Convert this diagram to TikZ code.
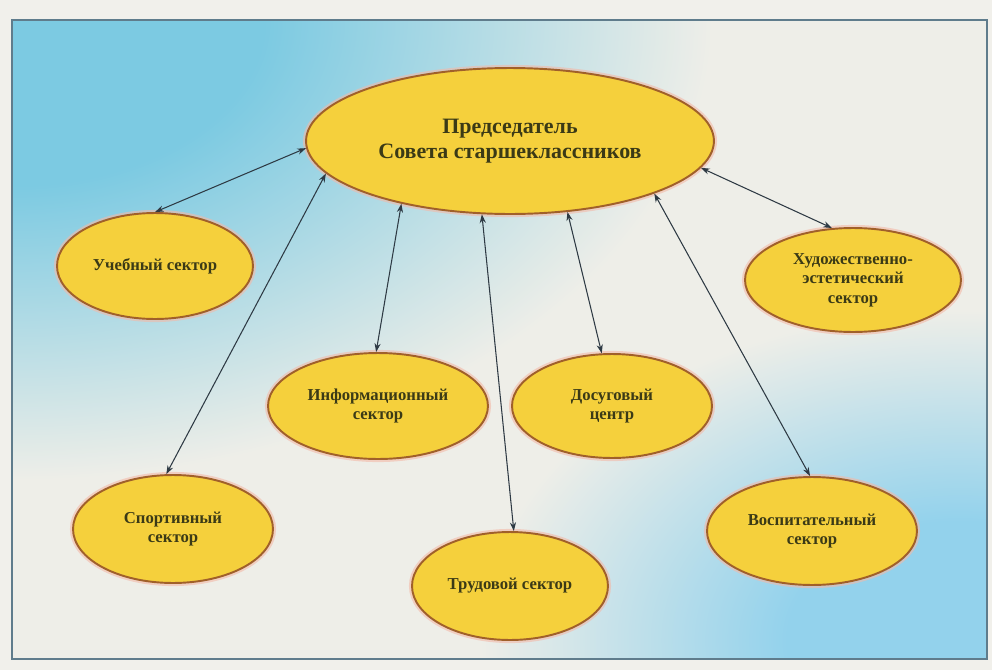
\documentclass[tikz,border=0pt]{standalone}
\usepackage{fontspec}
\setmainfont{Liberation Serif}
\usetikzlibrary{shapes.geometric,arrows.meta}
\definecolor{skyA}{HTML}{7CCAE2}
\definecolor{skyB}{HTML}{93D2EC}
\definecolor{creamc}{HTML}{EEEEE8}
\definecolor{marginc}{HTML}{F1F0EB}
\definecolor{framec}{HTML}{5F7C8C}
\definecolor{ellfill}{HTML}{F5D03C}
\definecolor{elldraw}{HTML}{A0602A}
\definecolor{halo}{HTML}{F3B9A8}
\definecolor{txt}{HTML}{3B3A16}
\definecolor{arr}{HTML}{2E3A44}
\pgfdeclareradialshading{tlshade}{\pgfpoint{0bp}{0bp}}{color(0bp)=(skyA); color(9bp)=(skyA); color(25bp)=(creamc); color(50bp)=(creamc)}
\pgfdeclareradialshading{brshade}{\pgfpoint{0bp}{0bp}}{color(0bp)=(skyB); color(9bp)=(skyB); color(25bp)=(creamc); color(50bp)=(creamc)}
\tikzset{
  sector/.style={ellipse, draw=elldraw, line width=1.1pt, fill=ellfill, inner sep=0pt,
    align=center, text=txt, font=\bfseries\fontsize{9.5}{11}\selectfont,
    preaction={draw=halo, line width=3.5pt, opacity=0.6}},
  link/.style={draw=arr, line width=0.6pt, {Stealth[length=5pt,width=3.5pt]}-{Stealth[length=5pt,width=3.5pt]}}
}
\begin{document}
\begin{tikzpicture}[x=0.02cm, y=-0.02cm]
\fill[marginc] (0,0) rectangle (992,670);
\useasboundingbox (0,0) rectangle (992,670);
\fill[creamc] (12,20) rectangle (987,659);
\begin{scope}
  \clip (12,20) rectangle (987,659);
  \shade[shading=tlshade] (12,20) ellipse [x radius=700, y radius=460];
  \shade[shading=brshade] (960,640) ellipse [x radius=480, y radius=330];
\end{scope}
\draw[framec, line width=1pt] (12,20) rectangle (987,659);

\node[sector, font=\bfseries\fontsize{12.5}{14.2}\selectfont, minimum width=8.16cm, minimum height=2.92cm] (top) at (510,141) {\raisebox{3pt}{\begin{tabular}{@{}c@{}}Председатель\\Совета старшеклассников\end{tabular}}};
\node[sector, minimum width=3.92cm, minimum height=2.12cm] (ucheb) at (155,266) {Учебный сектор};
\node[sector, minimum width=4.32cm, minimum height=2.08cm] (hud) at (853,280) {Художественно-\\эстетический\\сектор};
\node[sector, minimum width=4.4cm, minimum height=2.12cm] (info) at (378,406) {Информационный\\сектор};
\node[sector, minimum width=4.0cm, minimum height=2.08cm] (dosug) at (612,406) {Досуговый\\центр};
\node[sector, minimum width=4.0cm, minimum height=2.16cm] (sport) at (173,529) {Спортивный\\сектор};
\node[sector, minimum width=3.92cm, minimum height=2.16cm] (trud) at (510,586) {Трудовой сектор};
\node[sector, minimum width=4.2cm, minimum height=2.16cm] (vosp) at (812,531) {Воспитательный\\сектор};

\draw[link] (top.182.5) -- (ucheb.90);
\draw[link] (top.190.5) -- (sport.97);
\draw[link] (top.210.2) -- (info.92);
\draw[link] (top.249.3) -- (trud.86);
\draw[link] (top.309.4) -- (dosug.101);
\draw[link] (top.340.6) -- (vosp.92);
\draw[link] (top.352.9) -- (hud.112);
\end{tikzpicture}
\end{document}
